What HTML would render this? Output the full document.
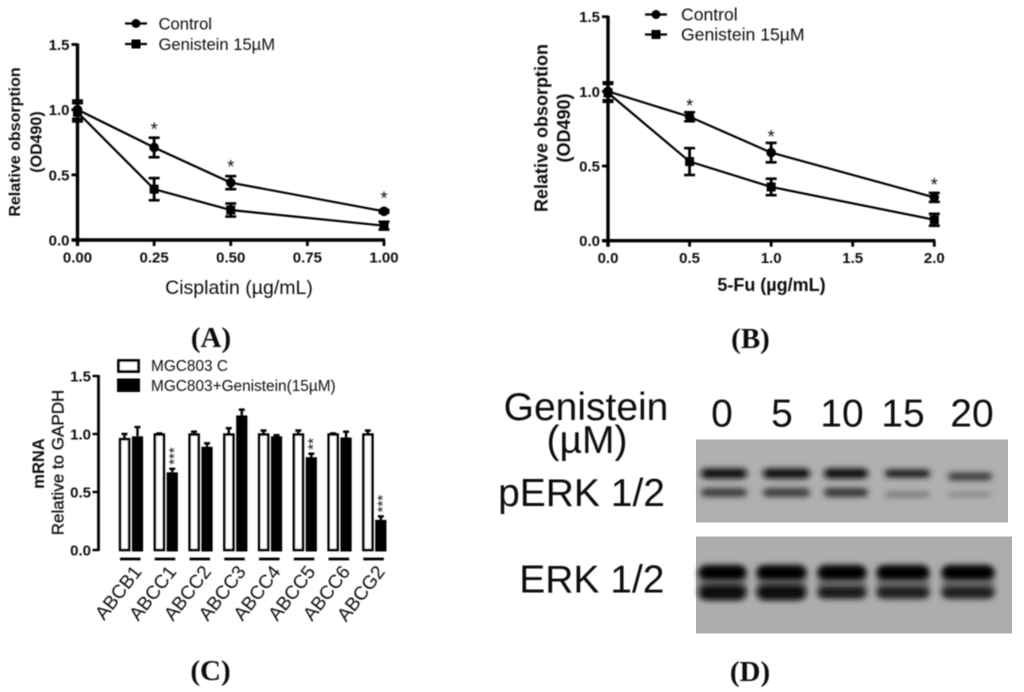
<!DOCTYPE html>
<html>
<head>
<meta charset="utf-8">
<title>Genistein figure</title>
<style>
html,body{margin:0;padding:0;background:#fff;width:1024px;height:692px;overflow:hidden}
svg{display:block;font-family:"Liberation Sans",sans-serif}
text{fill:#111}
</style>
</head>
<body>
<svg id="fig" xmlns="http://www.w3.org/2000/svg" width="1024" height="692" viewBox="0 0 1024 692">
<defs>
<filter id="soft" x="-5%" y="-5%" width="110%" height="110%"><feGaussianBlur stdDeviation="0.5"/></filter>
<filter id="bandBlur" x="-40%" y="-200%" width="180%" height="500%"><feGaussianBlur stdDeviation="3.2 2.9"/></filter>
<filter id="haloBlur" x="-30%" y="-60%" width="160%" height="220%"><feGaussianBlur stdDeviation="3.5 4"/></filter>
</defs>
<g id="charts" filter="url(#soft)"></g>
<g id="blot"></g>
</svg>
<script>
// Panel A data
const aDoses = [0, 0.25, 0.5, 1];
const aXTicks = ['0.00', '0.25', '0.50', '0.75', '1.00'];
const aControl = [1.0, 0.71, 0.44, 0.22];
const aControlErr = [0.07, 0.075, 0.05, 0.01];
const aGenistein = [0.98, 0.39, 0.23, 0.11];
const aGenisteinErr = [0.07, 0.085, 0.05, 0.03];
const aStars = [null, 0.88, 0.59, 0.35];

// Panel B data
const bDoses = [0, 0.5, 1, 2];
const bXTicks = ['0.0', '0.5', '1.0', '1.5', '2.0'];
const bControl = [1.0, 0.83, 0.59, 0.29];
const bControlErr = [0.06, 0.03, 0.065, 0.03];
const bGenistein = [0.99, 0.53, 0.36, 0.14];
const bGenisteinErr = [0.06, 0.09, 0.055, 0.04];
const bStars = [null, 0.93, 0.72, 0.4];

const yTicks = ['0.0', '0.5', '1.0', '1.5'];

// Panel C data
const cGenes = ['ABCB1', 'ABCC1', 'ABCC2', 'ABCC3', 'ABCC4', 'ABCC5', 'ABCC6', 'ABCG2'];
const cControl = [0.96, 1.0, 1.0, 1.0, 1.0, 1.0, 1.0, 1.0];
const cControlErr = [0.04, 0.005, 0.02, 0.05, 0.03, 0.03, 0.005, 0.03];
const cGenistein = [0.98, 0.67, 0.89, 1.16, 0.98, 0.8, 0.97, 0.26];
const cGenisteinErr = [0.08, 0.03, 0.03, 0.05, 0.01, 0.03, 0.05, 0.03];
const cSignif = ['', '***', '', '', '', '**', '', '***'];

// Panel D data (band intensity 0-1)
const dLanes = ['0', '5', '10', '15', '20'];
const dPerkUpper = [0.95, 0.9, 0.9, 0.82, 0.65];
const dPerkLower = [0.62, 0.62, 0.68, 0.28, 0.18];
const dErkUpper = [1, 1, 1, 1, 1];
const dErkLower = [0.9, 0.9, 0.88, 0.85, 0.82];

const NS = 'http://www.w3.org/2000/svg';
const charts = document.getElementById('charts');
const blot = document.getElementById('blot');

function mk(parent, tag, attrs, txt) {
  const el = document.createElementNS(NS, tag);
  for (const k in attrs) el.setAttribute(k, attrs[k]);
  if (txt !== undefined) el.textContent = txt;
  parent.appendChild(el);
  return el;
}

function drawLine(p, x1, y1, x2, y2, w, name) {
  const el = mk(p, 'line', {x1: x1, y1: y1, x2: x2, y2: y2, stroke: '#000', 'stroke-width': w});
  
  
  return el;
}

function drawText(p, x, y, size, weight, anchor, txt, name, extra) {
  const el = mk(p, 'text', Object.assign({x: x, y: y, 'font-size': size, 'font-weight': weight, 'text-anchor': anchor}, extra || {}), txt);
  
  
  return el;
}

function lineChart(cfg) {
  const g = mk(charts, 'g', {});
  
  
  const sx = v => cfg.x0 + (v / cfg.xMax) * (cfg.x1 - cfg.x0);
  const sy = v => cfg.y0 - (v / 1.5) * (cfg.y0 - cfg.y1);

  drawLine(g, cfg.x0, cfg.y1 - 1, cfg.x0, cfg.y0 + 6, 3.4, 'y-axis');
  drawLine(g, cfg.x0 - 6, cfg.y0, cfg.x1 + 1, cfg.y0, 3.4, 'x-axis');

  yTicks.forEach(t => {
    const y = sy(parseFloat(t));
    drawLine(g, cfg.x0 - 6, y, cfg.x0, y, 2.8, 'y-tick');
    drawText(g, cfg.x0 - 8, y + 5.5, 15, 'bold', 'end', t, 'y-tick-label');
  });
  cfg.xTicks.forEach(t => {
    const x = sx(parseFloat(t));
    drawLine(g, x, cfg.y0, x, cfg.y0 + 6, 2.8, 'x-tick');
    drawText(g, x, cfg.y0 + 22.5, 15, 'bold', 'middle', t, 'x-tick-label');
  });

  function series(vals, errs, shape, name) {
    const sg = mk(g, 'g', {});
    
    
    const pl = mk(sg, 'polyline', {
      points: vals.map((v, i) => sx(cfg.doses[i]) + ',' + sy(v)).join(' '),
      fill: 'none', stroke: '#000', 'stroke-width': 2.2
    });
    
    
    vals.forEach((v, i) => {
      const x = sx(cfg.doses[i]), y = sy(v);
      const top = sy(v + errs[i]), bot = sy(v - errs[i]);
      drawLine(sg, x, top, x, bot, 2.8, 'error-bar');
      drawLine(sg, x - 5.5, top, x + 5.5, top, 2.6, 'error-cap');
      drawLine(sg, x - 5.5, bot, x + 5.5, bot, 2.6, 'error-cap');
      let m;
      if (shape === 'circle') m = mk(sg, 'circle', {cx: x, cy: y, r: 4.8, fill: '#000'});
      else m = mk(sg, 'rect', {x: x - 4.5, y: y - 4.5, width: 9, height: 9, fill: '#000'});
      
      
    });
  }
  series(cfg.ctrl, cfg.ctrlErr, 'circle', 'series-control');
  series(cfg.gen, cfg.genErr, 'square', 'series-genistein');

  cfg.stars.forEach((s, i) => {
    if (s === null) return;
    drawText(g, sx(cfg.doses[i]), sy(s) + 10, 18, 'normal', 'middle', '*', 'significance-star');
  });

  // Legend
  const L = cfg.legend;
  const leg = mk(g, 'g', {});
  
  
  drawLine(leg, L.x, L.y1, L.x + 22, L.y1, 2.2, 'legend-control-line');
  const c = mk(leg, 'circle', {cx: L.x + 11, cy: L.y1, r: 4.5, fill: '#000'});
  
  
  drawText(leg, L.tx, L.y1 + 6, L.size, 'normal', 'start', 'Control', 'legend-control-label');
  drawLine(leg, L.x, L.y2, L.x + 22, L.y2, 2.2, 'legend-genistein-line');
  const r = mk(leg, 'rect', {x: L.x + 6.5, y: L.y2 - 4.5, width: 9, height: 9, fill: '#000'});
  
  
  drawText(leg, L.tx, L.y2 + 6, L.size, 'normal', 'start', 'Genistein 15\u00b5M', 'legend-genistein-label');

  // Titles
  drawText(g, cfg.xTitleX, cfg.xTitleY, cfg.xTitleSize, cfg.xTitleWeight, 'middle', cfg.xTitle, 'x-axis-title');
  const a = 'rotate(-90 ' + cfg.yt1 + ' ' + cfg.ytY + ')';
  drawText(g, cfg.yt1, cfg.ytY, cfg.ytSize, 'bold', 'middle', 'Relative obsorption', 'y-axis-title', {transform: a});
  const b = 'rotate(-90 ' + cfg.yt2 + ' ' + cfg.ytY2 + ')';
  drawText(g, cfg.yt2, cfg.ytY2, cfg.ytSize, 'bold', 'middle', '(OD490)', 'y-axis-subtitle', {transform: b});
}

lineChart({
  name: 'chart-a-cisplatin', x0: 77.5, x1: 384, y0: 240, y1: 44.5, xMax: 1,
  doses: aDoses, xTicks: aXTicks, ctrl: aControl, ctrlErr: aControlErr, gen: aGenistein, genErr: aGenisteinErr, stars: aStars,
  legend: {x: 125, y1: 23.5, y2: 44, tx: 158.5, size: 16.6},
  xTitle: 'Cisplatin (\u00b5g/mL)', xTitleX: 239, xTitleY: 294, xTitleSize: 19.5, xTitleWeight: 'normal',
  yt1: 20, ytY: 142, yt2: 41.5, ytY2: 142, ytSize: 16
});
lineChart({
  name: 'chart-b-5fu', x0: 608, x1: 934.3, y0: 240.7, y1: 16.7, xMax: 2,
  doses: bDoses, xTicks: bXTicks, ctrl: bControl, ctrlErr: bControlErr, gen: bGenistein, genErr: bGenisteinErr, stars: bStars,
  legend: {x: 645, y1: 14.5, y2: 34.5, tx: 681, size: 17.6},
  xTitle: '5-Fu (\u00b5g/mL)', xTitleX: 771.5, xTitleY: 291, xTitleSize: 18, xTitleWeight: 'bold',
  yt1: 547.5, ytY: 128, yt2: 570, ytY2: 128, ytSize: 18
});

// Panel C
(function () {
  const g = mk(charts, 'g', {});
  
  
  const x0 = 98.5, y0 = 550, y1 = 376;
  const sy = v => y0 - (v / 1.5) * (y0 - y1);
  const gx = i => 119.5 + i * 34.76;
  drawLine(g, x0, y1 - 1, x0, y0 + 1, 2.8, 'y-axis');
  yTicks.forEach(t => {
    const y = sy(parseFloat(t));
    drawLine(g, x0 - 6, y, x0, y, 2.4, 'y-tick');
    drawText(g, x0 - 7.5, y + 5.5, 15, 'bold', 'end', t, 'y-tick-label');
  });
  cGenes.forEach((name, i) => {
    const x = gx(i);
    const bg = mk(g, 'g', {});
    
    
    const cy = sy(cControl[i]), cTop = sy(cControl[i] + cControlErr[i]);
    drawLine(bg, x + 5, cy, x + 5, cTop, 2.4, 'error-bar');
    drawLine(bg, x + 2, cTop, x + 8, cTop, 2.4, 'error-cap');
    const w = mk(bg, 'rect', {x: x + 0.6, y: cy + 0.6, width: 9, height: y0 - cy - 0.6, fill: '#fff', stroke: '#000', 'stroke-width': 2.6});
    
    
    const yy = sy(cGenistein[i]), gTop = sy(cGenistein[i] + cGenisteinErr[i]);
    drawLine(bg, x + 18, yy, x + 18, gTop, 2.4, 'error-bar');
    drawLine(bg, x + 15, gTop, x + 21, gTop, 2.4, 'error-cap');
    const b = mk(bg, 'rect', {x: x + 12.4, y: yy, width: 11.2, height: y0 - yy + 1.5, fill: '#000'});
    
    
    if (cSignif[i]) {
      const tx = x + 24.5, ty = gTop - 4;
      drawText(bg, tx, ty, 15, 'normal', 'start', cSignif[i], 'significance-stars', {transform: 'rotate(-90 ' + tx + ' ' + ty + ')'});
    }
    drawLine(bg, x + 0.5, 559, x + 21, 559, 2.8, 'group-bracket');
    const lx = x + 23, ly = 572;
    drawText(bg, lx, ly, 19, 'normal', 'end', name, 'x-tick-label', {transform: 'rotate(-52 ' + lx + ' ' + ly + ')'});
  });
  const lw = mk(g, 'rect', {x: 118.5, y: 360.5, width: 20, height: 11, fill: '#fff', stroke: '#000', 'stroke-width': 2.8});
  
  
  const lb = mk(g, 'rect', {x: 117, y: 378.5, width: 23, height: 13.5, fill: '#000'});
  
  
  drawText(g, 151, 371, 15.4, 'normal', 'start', 'MGC803 C', 'legend-control-label');
  drawText(g, 151, 391, 15.4, 'normal', 'start', 'MGC803+Genistein(15\u00b5M)', 'legend-genistein-label');
  drawText(g, 44, 463.5, 16.5, 'bold', 'middle', 'mRNA', 'y-axis-title', {transform: 'rotate(-90 44 463.5)'});
  drawText(g, 63.5, 462.5, 17, 'normal', 'middle', 'Relative to GAPDH', 'y-axis-subtitle', {transform: 'rotate(-90 63.5 462.5)', stroke: '#111', 'stroke-width': 0.3});
})();

// Panel captions
[['(', 'A', ')', 211, 347, 'caption-a'], ['(', 'B', ')', 750.5, 348, 'caption-b'], ['(', 'C', ')', 210.5, 680, 'caption-c'], ['(', 'D', ')', 750, 681, 'caption-d']].forEach(c => {
  const t = mk(charts, 'text', {x: c[3], y: c[4], 'font-size': 29, 'font-weight': 'bold', 'text-anchor': 'middle', 'font-family': '"Liberation Serif",serif'}, c[0] + c[1] + c[2]);
  
  
});

// Panel D
(function () {
  const soft = mk(blot, 'g', {filter: 'url(#soft)'});
  
  
  drawText(soft, 586, 420, 39, 'normal', 'middle', 'Genistein', 'treatment-label');
  drawText(soft, 587, 453, 39, 'normal', 'middle', '(\u00b5M)', 'unit-label');
  drawText(soft, 665, 506, 39, 'normal', 'end', 'pERK 1/2', 'perk-label');
  drawText(soft, 664.5, 592.5, 39, 'normal', 'end', 'ERK 1/2', 'erk-label');
  const labelX = [722, 782, 842, 903, 972];
  dLanes.forEach((l, i) => drawText(soft, labelX[i], 426.7, 39, 'normal', 'middle', l, 'lane-label'));

  const p1 = mk(blot, 'rect', {x: 696, y: 439.5, width: 312, height: 83, fill: '#b0b0b0'});
  
  
  const p2 = mk(blot, 'rect', {x: 696, y: 536.5, width: 316, height: 97, fill: '#adadad'});
  
  

  const clipTop = mk(blot, 'g', {});
  
  

  const topLeft = [701, 763, 824, 885, 948], topW = [46, 47, 44, 45, 44];
  const botLeft = [699, 757, 818, 877, 942], botW = [47, 49, 48, 52, 52];
  function band(x, y, w, h, v, name) {
    const shade = Math.round(172 - 172 * v);
    const el = mk(clipTop, 'rect', {x: x, y: y - h / 2, width: w, height: h, rx: h / 2, fill: 'rgb(' + shade + ',' + shade + ',' + shade + ')', filter: 'url(#bandBlur)'});
    
    
  }
  dLanes.forEach((l, i) => {
    const halo = mk(clipTop, 'rect', {x: botLeft[i], y: 566, width: botW[i], height: 32, rx: 8, fill: '#707070', filter: 'url(#haloBlur)'});
    
    
    band(topLeft[i], 473.5 + (i === 4 ? 3 : 0), topW[i], i > 2 ? 8 : 10, dPerkUpper[i], 'perk-upper-band');
    band(topLeft[i], 492.5 + (i > 2 ? 2 : 0), topW[i], i > 2 ? 6 : 9, dPerkLower[i], 'perk-lower-band');
    band(botLeft[i], 572.5, botW[i], 14, dErkUpper[i], 'erk-upper-band');
    band(botLeft[i], 592.5, botW[i], i < 2 ? 15 : 11, dErkLower[i], 'erk-lower-band');
  });
})();
</script>
</body>
</html>
